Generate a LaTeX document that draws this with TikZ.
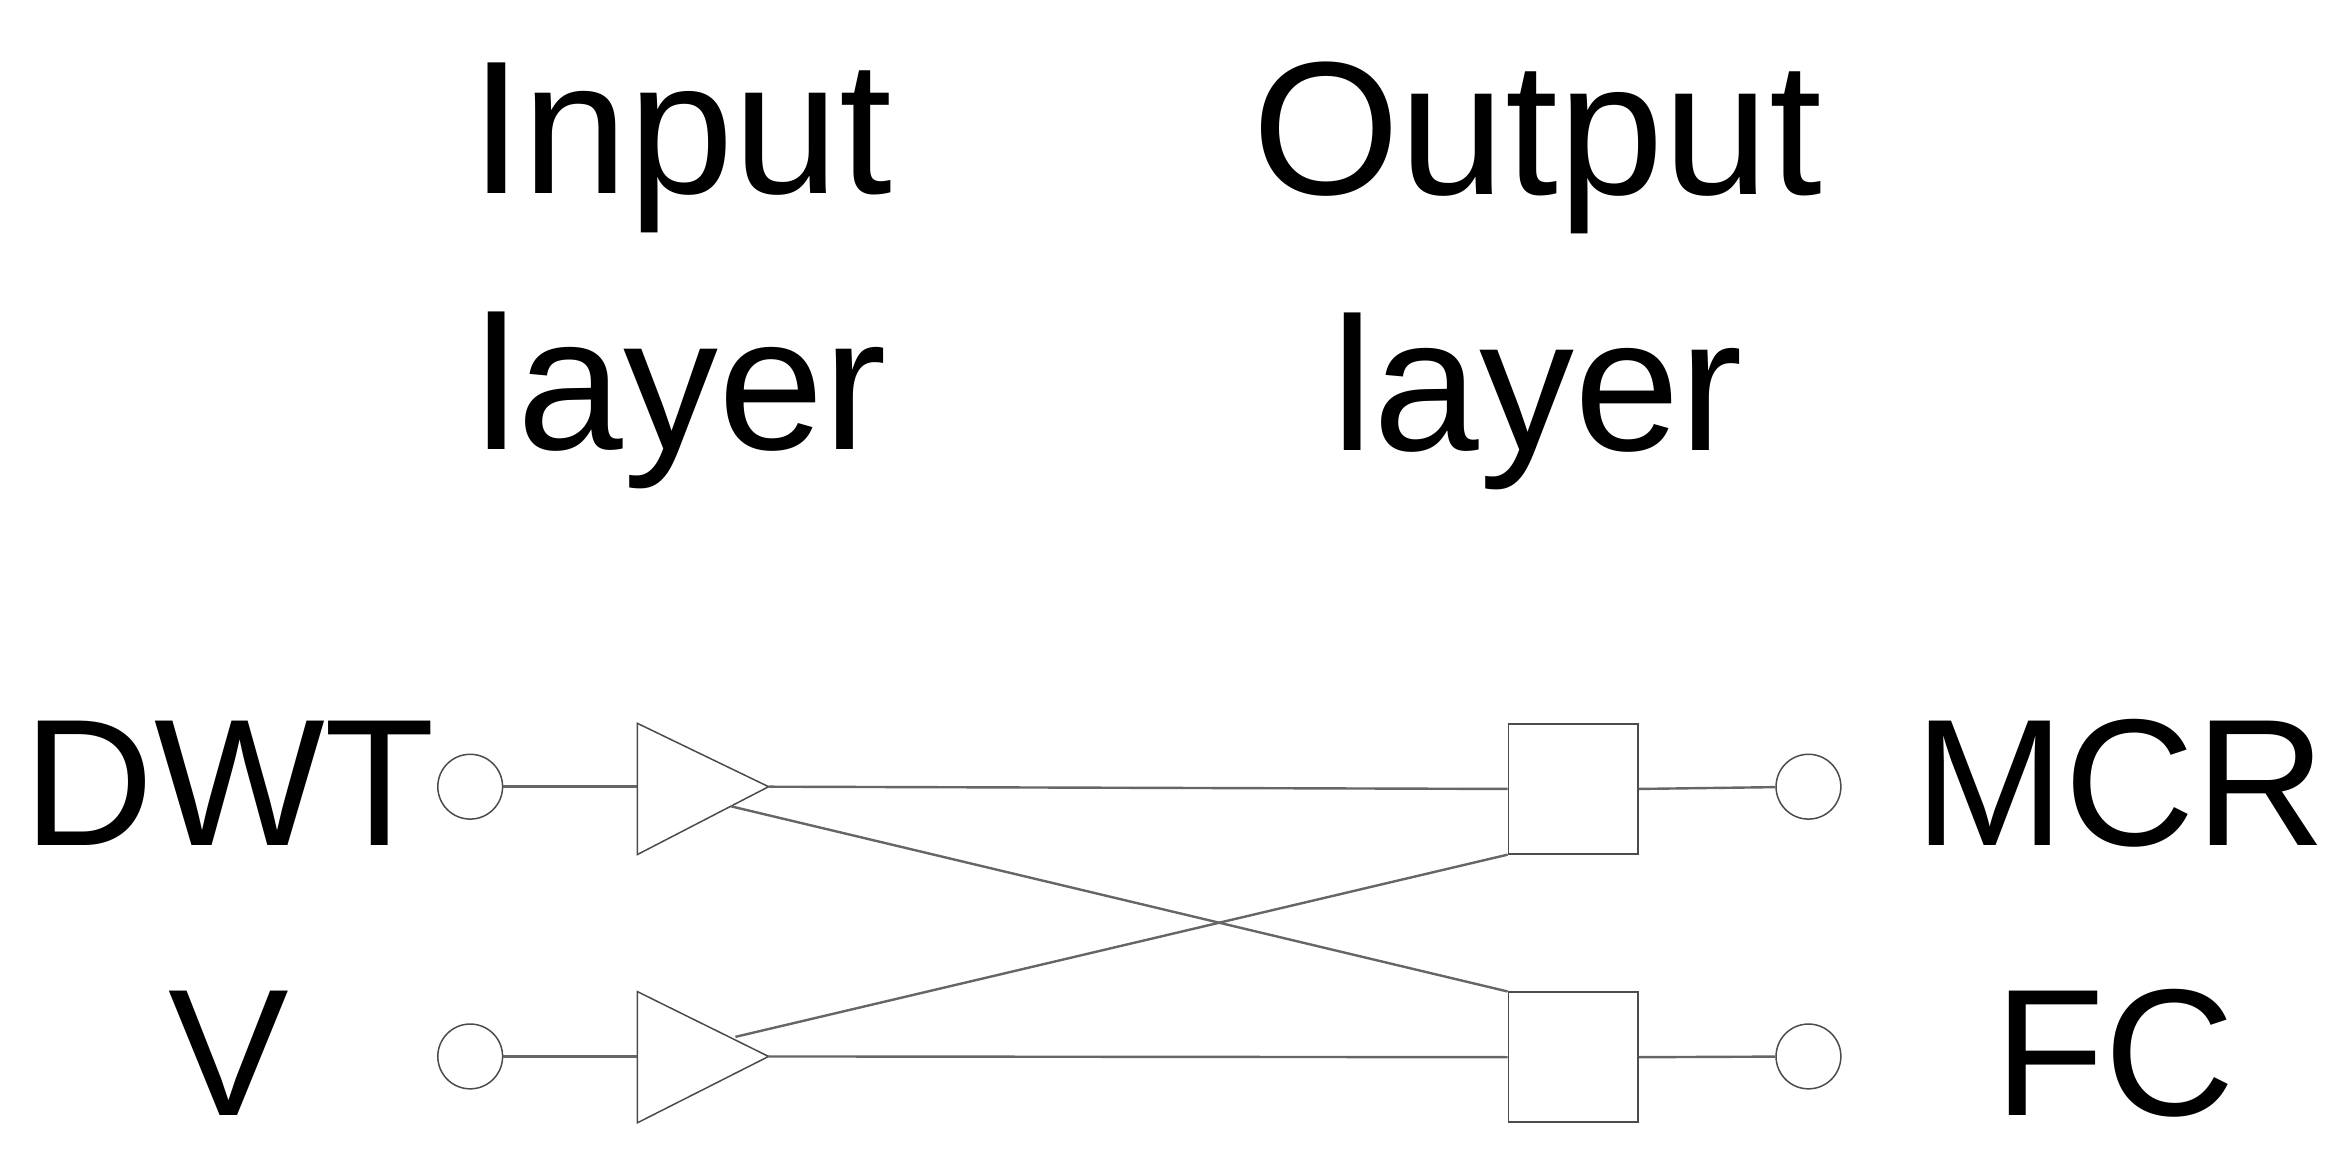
\documentclass[tikz,border=0pt]{standalone}
\usepackage{fontspec}
\setmainfont{Liberation Sans}
\begin{document}
\begin{tikzpicture}[x=1pt,y=-1pt,
  lbl/.style={inner sep=0pt,font=\fontsize{120}{140}\selectfont},
  ttl/.style={inner sep=0pt,font=\fontsize{126}{170}\selectfont,align=center},
  io/.style={circle,draw=black!70,line width=1pt,minimum size=43pt,inner sep=0pt},
  box/.style={draw=black!70,line width=1.2pt,minimum size=86pt,inner sep=0pt},
  wire/.style={draw=black!60,line width=1.6pt}]
\useasboundingbox (0,0) rectangle (1560,765);
\node[ttl] (in) at (452,183) {Input\\layer};
\node[ttl] (out) at (1020,183) {Output\\layer};
\node[lbl,anchor=east] (dwt) at (289,520) {DWT};
\node[lbl] (v) at (152,699) {V};
\node[lbl,anchor=west] (mcr) at (1270,520) {MCR};
\node[lbl,anchor=west] (fc) at (1323,699) {FC};
\node[io] (c1) at (312,522) {};
\node[io] (c2) at (312,701) {};
\node[io] (c3) at (1200,522) {};
\node[io] (c4) at (1200,701) {};
\node[box] (b1) at (1044,523.5) {};
\node[box] (b2) at (1044,701.5) {};
\draw[black!70,line width=1pt] (423,480) -- (510,522) coordinate (t1) -- (423,567) -- cycle;
\draw[black!70,line width=1pt] (423,658) -- (510,701) coordinate (t2) -- (423,745) -- cycle;
\coordinate (t1x) at (485,535);
\coordinate (t2x) at (488,688);
\draw[wire] (c1) -- (423,522);
\draw[wire] (c2) -- (423,701);
\draw[wire] (t1) -- (b1.west);
\draw[wire] (t2) -- (b2.west);
\draw[wire] (b1.east) -- (c3);
\draw[wire] (b2.east) -- (c4);
\draw[wire] (t1x) -- (b2.north west);
\draw[wire] (t2x) -- (b1.south west);
\end{tikzpicture}
\end{document}
